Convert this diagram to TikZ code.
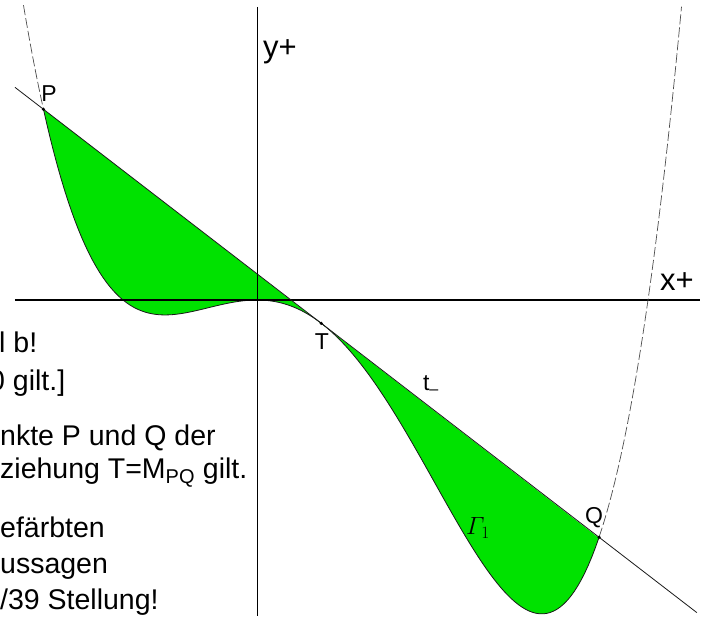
\documentclass[tikz,border=0pt]{standalone}
\usepackage{amsmath}
\usepackage{fontspec}
\newfontfamily\labelfont{Liberation Sans}
\usetikzlibrary{calc}
\definecolor{areagreen}{RGB}{0,226,0}

\begin{document}
\begin{tikzpicture}[x=1pt, y=1pt,
    declare function={f(\u)=8.7*\u*\u*(\u+1.34)*(\u-3.91);},
    curve/.style={gray!60!black, line width=0.7pt, dash pattern=on 10pt off 3pt},
    edge/.style={black!90, line width=0.8pt},
    ptdot/.style={circle, fill=black, inner sep=0pt, minimum size=3.5pt},
    lbl/.style={font=\labelfont\fontsize{23}{23}\selectfont, inner sep=0pt},
    axlbl/.style={font=\labelfont\fontsize{31}{31}\selectfont, inner sep=0pt, anchor=base west},
    txt/.style={font=\labelfont\fontsize{28.5}{28.5}\selectfont, inner sep=0pt, anchor=base west}]
    \clip (-257,-316) rectangle (451,300);

    % --- points on the curve ---
    \coordinate (P) at (-213.53,{f(-2.1353)});
    \coordinate (T) at (64.25,{f(0.6425)});
    \coordinate (Q) at (342.03,{f(3.4203)});
    \coordinate (tl) at ($(P)!-0.0513!(Q)$);
    \coordinate (tr) at ($(P)!1.176!(Q)$);

    % --- green area between curve and t ---
    \fill[areagreen] plot[domain=-2.1353:3.4203, samples=160] ({100*\x},{f(\x)}) -- cycle;
    \draw[edge] plot[domain=-2.1353:3.4203, samples=160] ({100*\x},{f(\x)});

    % --- axes ---
    \coordinate (xl) at (-242,0);
    \coordinate (xr) at (443,0);
    \coordinate (yt) at (0,293);
    \coordinate (yb) at (0,-316);
    \draw[line width=2.4pt] (xl) -- (xr);
    \draw[line width=1pt] (yt) -- (yb);
    \node[axlbl] (ylab) at (6,242) {y+};
    \node[axlbl] (xlab) at (403,10) {x+};

    % --- rest of the curve, and t ---
    \draw[curve] plot[domain=-2.335:-2.1353, samples=30] ({100*\x},{f(\x)});
    \draw[curve] plot[domain=3.4203:4.245, samples=60] ({100*\x},{f(\x)});
    \draw[edge] (tl) -- (tr);

    \node[ptdot] (Pd) at (P) {};
    \node[ptdot] (Td) at (T) {};
    \node[ptdot] (Qd) at (Q) {};
    \node[lbl] (labP) at (-208,206) {P};
    \node[lbl] (labT) at (65,-42) {T};
    \node[lbl] (labQ) at (337,-218) {Q};
    \node[lbl] (labt) at (174,-85) {t\textsubscript{–}};
    \node[inner sep=0pt] (labG) at (221,-228) {\fontsize{26}{26}\selectfont$\varGamma_{1}$};

    % --- text at the left ---
    \node[txt] (l1) at (-258,-52) {l b!};
    \node[txt] (l2) at (-268,-90) {0 gilt.]};
    \node[txt] (l3) at (-257,-145) {nkte P und Q der};
    \node[txt] (l4) at (-257,-178) {ziehung T=M\textsubscript{PQ} gilt.};
    \node[txt] (l5) at (-257,-237) {efärbten};
    \node[txt] (l6) at (-257,-273) {ussagen};
    \node[txt] (l7) at (-257,-309) {/39 Stellung!};
\end{tikzpicture}
\end{document}
